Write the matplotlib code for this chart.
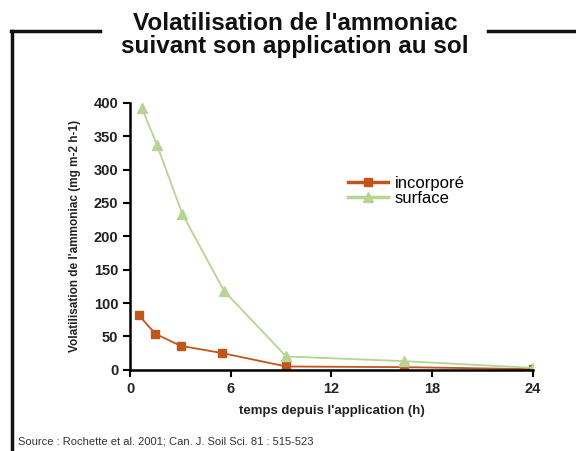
import matplotlib.pyplot as plt
from matplotlib.lines import Line2D

plt.rcParams['font.family'] = ['Liberation Sans', 'DejaVu Sans']

# données
heures_inc = [0.5, 1.5, 3.0, 5.5, 9.3, 16.3, 24]
incorpore = [82, 54, 36, 25, 5, 4, 1]
heures_surf = [0.7, 1.6, 3.1, 5.6, 9.3, 16.3, 24]
surface = [392, 337, 234, 118, 20, 13, 3]
xticks = [0, 6, 12, 18, 24]
yticks = [0, 50, 100, 150, 200, 250, 300, 350, 400]

brun = '#c0561b'
vert = '#b7d492'

fig = plt.figure(figsize=(5.76, 4.51), dpi=100)
ax = fig.add_axes([0.226, 0.18, 0.699, 0.592])

ax.plot(heures_inc, incorpore, color=brun, marker='s', markersize=6, lw=1.3, label='incorporé')
ax.plot(heures_surf, surface, color=vert, marker='^', markersize=7, lw=1.3, label='surface')

ax.set_xlim(0, 24)
ax.set_ylim(0, 400)
ax.set_xticks(xticks)
ax.set_yticks(yticks)
for s in ['top', 'right']:
    ax.spines[s].set_visible(False)
for s in ['left', 'bottom']:
    ax.spines[s].set_linewidth(1.8)
ax.tick_params(direction='out', length=5, width=1.5, labelsize=10.5)
for lab in ax.get_xticklabels() + ax.get_yticklabels():
    lab.set_fontweight('bold')
    lab.set_color('#222222')

ax.set_xlabel("temps depuis l'application (h)", fontsize=9.5, fontweight='bold',
              labelpad=7, color='#222222')
ax.set_ylabel("Volatilisation de l'ammoniac (mg m-2 h-1)", fontsize=8.5, fontweight='bold',
              labelpad=9, color='#222222')

leg = ax.legend(loc='upper left', bbox_to_anchor=(0.52, 0.756), frameon=False, fontsize=12,
                handlelength=2.4, handletextpad=0.4, labelspacing=0.0, borderpad=0)
for h in leg.get_lines():
    h.set_linewidth(2.5)

fig.text(0.512, 0.922, "Volatilisation de l'ammoniac\nsuivant son application au sol",
         ha='center', va='center', fontsize=17.5, fontweight='bold',
         linespacing=0.98, color='#111111')
fig.text(0.031, 0.014, "Source : Rochette et al. 2001; Can. J. Soil Sci. 81 : 515-523",
         fontsize=8, color='#333333')

# cadre décoratif
fig.add_artist(Line2D([0.021, 0.021], [0.0, 0.931], color='#111111', lw=2.5))
fig.add_artist(Line2D([0.019, 0.174], [0.931, 0.931], color='#111111', lw=2.5))
fig.add_artist(Line2D([0.847, 1.0], [0.931, 0.931], color='#111111', lw=2.5))

fig.savefig('out.png', dpi=100)
